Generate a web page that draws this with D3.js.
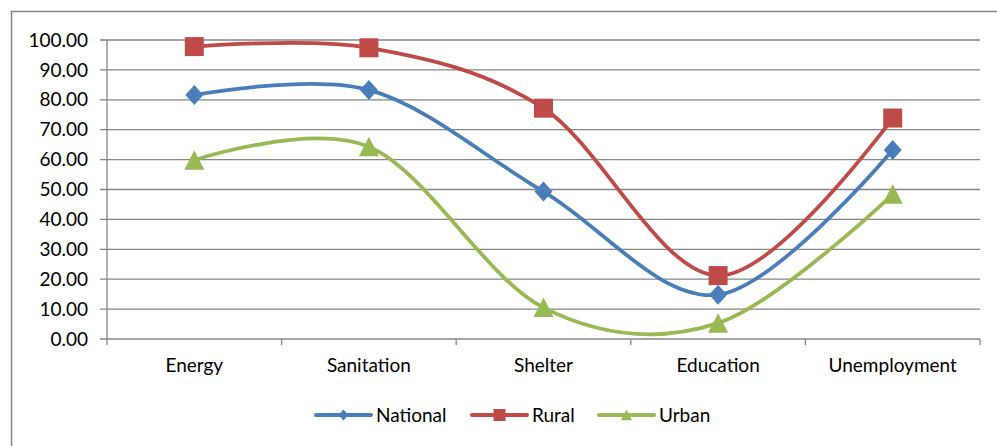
<!DOCTYPE html>
<html>
<head>
<meta charset="utf-8">
<script src="https://cdn.jsdelivr.net/npm/d3@7/dist/d3.min.js"></script>
<style>
  body { margin: 0; background: #fff; }
  text { font-family: Lato, "Open Sans", sans-serif; fill: #000; }
</style>
</head>
<body>
<div id="vis"></div>
<script>
var categories = ["Energy", "Sanitation", "Shelter", "Education", "Unemployment"];
var national = [81.6, 83.3, 49.3, 14.8, 63.2];
var rural = [97.8, 97.4, 77.2, 21.2, 73.9];
var urban = [59.8, 64.3, 10.5, 5.3, 48.4];
var yTicks = [0, 10, 20, 30, 40, 50, 60, 70, 80, 90, 100];
var seriesNames = ["National", "Rural", "Urban"];
var seriesColors = ["#4A7EBB", "#BE4B48", "#98B954"];

var w = 997, h = 446;
var fontSize = 19;

var svg = d3.select("#vis").append("svg")
	.attr("width", w)
	.attr("height", h);

// chart border (right and bottom fall outside the picture)
svg.append("rect")
	.attr("x", 11.5).attr("y", 11.5)
	.attr("width", w + 20).attr("height", h + 20)
	.attr("fill", "none")
	.attr("stroke", "#868686")
	.attr("stroke-width", 1.5);

var x = d3.scaleBand()
	.domain(categories)
	.range([107, 980]);

var y = d3.scaleLinear()
	.domain([0, 100])
	.range([339, 40]);

// gridlines
svg.append("g").selectAll("line")
	.data(yTicks)
	.enter()
	.append("line")
	.attr("x1", 100).attr("x2", 980)
	.attr("y1", function(d) { return y(d); })
	.attr("y2", function(d) { return y(d); })
	.attr("stroke", "#868686")
	.attr("stroke-width", 1.3);

// y axis line
svg.append("line")
	.attr("x1", 107).attr("x2", 107)
	.attr("y1", y(100)).attr("y2", y(0))
	.attr("stroke", "#868686").attr("stroke-width", 1.3);

svg.append("g").selectAll("text")
	.data(yTicks)
	.enter()
	.append("text")
	.attr("x", 88)
	.attr("y", function(d) { return y(d); })
	.attr("dy", "0.35em")
	.attr("text-anchor", "end")
	.style("font-size", fontSize + "px")
	.text(function(d) { return d3.format(".2f")(d); });

// category ticks
var tickPos = categories.map(function(c) { return x(c); }).concat([980]);
svg.append("g").selectAll("line")
	.data(tickPos)
	.enter()
	.append("line")
	.attr("x1", function(d) { return d; })
	.attr("x2", function(d) { return d; })
	.attr("y1", y(0)).attr("y2", y(0) + 6)
	.attr("stroke", "#868686").attr("stroke-width", 1.3);

svg.append("g").selectAll("text")
	.data(categories)
	.enter()
	.append("text")
	.attr("x", function(d) { return x(d) + x.bandwidth() / 2; })
	.attr("y", 372)
	.attr("text-anchor", "middle")
	.style("font-size", fontSize + "px")
	.text(function(d) { return d; });

function markerPath(i, s) {
	if (i === 0) {
		return "M0," + (-s) + "L" + (s * 0.9) + ",0L0," + s + "L" + (-s * 0.9) + ",0Z";
	} else if (i === 1) {
		return "M" + (-s) + "," + (-s) + "H" + s + "V" + s + "H" + (-s) + "Z";
	}
	return "M0," + (-s) + "L" + s + "," + (s * 0.95) + "L" + (-s) + "," + (s * 0.95) + "Z";
}

var line = d3.line()
	.x(function(d, i) { return x(categories[i]) + x.bandwidth() / 2; })
	.y(function(d) { return y(d); })
	.curve(d3.curveCardinal);

[national, rural, urban].forEach(function(values, si) {
	var g = svg.append("g");
	g.append("path")
		.attr("d", line(values))
		.attr("fill", "none")
		.attr("stroke", seriesColors[si])
		.attr("stroke-width", 3.8)
		.attr("stroke-linecap", "round");
	g.selectAll("path.m")
		.data(values)
		.enter()
		.append("path")
		.attr("class", "m")
		.attr("transform", function(d, i) {
			return "translate(" + (x(categories[i]) + x.bandwidth() / 2) + "," + y(d) + ")";
		})
		.attr("d", markerPath(si, si === 1 ? 9.5 : 10))
		.attr("fill", seriesColors[si]);
});

// legend
var legendX = [316, 472, 599];
var legend = svg.append("g").selectAll("g")
	.data(seriesNames)
	.enter()
	.append("g")
	.attr("transform", function(d, i) { return "translate(" + legendX[i] + ",415)"; });

legend.append("line")
	.attr("x1", 0).attr("x2", 55)
	.attr("stroke", function(d, i) { return seriesColors[i]; })
	.attr("stroke-width", 4)
	.attr("stroke-linecap", "round");

legend.append("path")
	.attr("transform", "translate(27.5,0)")
	.attr("d", function(d, i) { return markerPath(i, i === 1 ? 6 : 5.5); })
	.attr("fill", function(d, i) { return seriesColors[i]; });

legend.append("text")
	.attr("x", 60)
	.attr("dy", "0.35em")
	.style("font-size", fontSize + "px")
	.text(function(d) { return d; });
</script>
</body>
</html>
